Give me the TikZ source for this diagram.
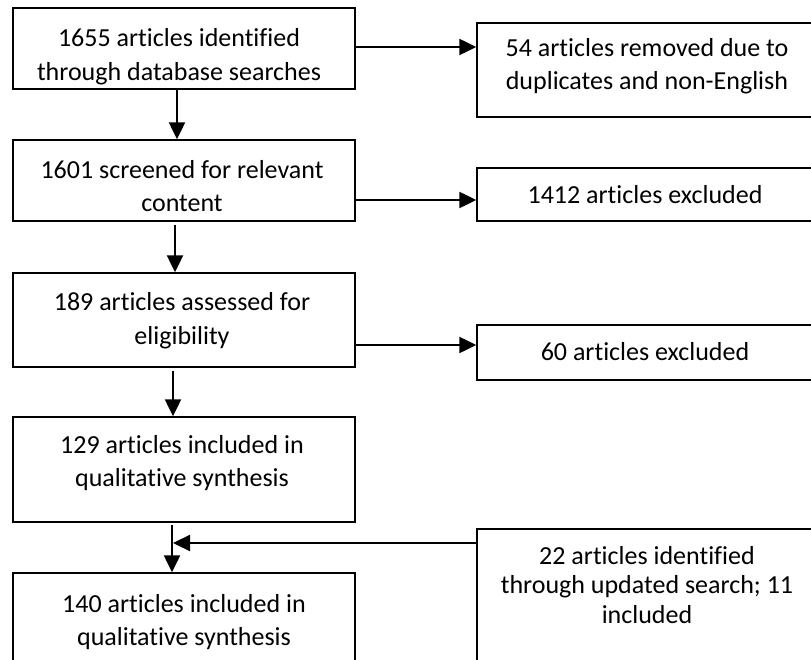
\documentclass[tikz,border=0pt]{standalone}
\usepackage{fontspec}
\setmainfont{Carlito}[Ligatures={NoCommon}]
\usetikzlibrary{arrows.meta}
\tikzset{
  box/.style={draw=black, line width=1.4pt, inner sep=0pt, rectangle},
  txt/.style={font=\fontsize{26}{33}\selectfont, align=center, inner sep=0pt, anchor=base},
  arr/.style={draw=black, line width=2.3pt, -{Triangle[length=17pt,width=16pt]}}
}
\begin{document}
\begin{tikzpicture}[x=1pt,y=-1pt]
\useasboundingbox (0,0) rectangle (811,660);
\clip (0,0) rectangle (811,660);
% left column boxes
\node[box, minimum width=342pt, minimum height=81pt]  (a) at (184,48.5) {};
\node[box, minimum width=342pt, minimum height=81pt]  (b) at (184,180.5) {};
\node[box, minimum width=342pt, minimum height=94pt]  (c) at (184,320) {};
\node[box, minimum width=342pt, minimum height=105pt] (d) at (184,469.5) {};
\node[box, minimum width=342pt, minimum height=117pt] (e) at (184,631.5) {};
% right column boxes
\node[box, minimum width=340pt, minimum height=94pt]  (r1) at (647,70) {};
\node[box, minimum width=340pt, minimum height=53pt]  (r2) at (647,194.5) {};
\node[box, minimum width=340pt, minimum height=55pt]  (r3) at (647,352.5) {};
\node[box, minimum width=340pt, minimum height=161pt] (r4) at (647,609.5) {};
% texts (anchor base = baseline of the last line)
\node[txt, font=\fontsize{26}{34}\selectfont] (ta) at (179,81) {1655 articles identified\\through database searches};
\node[txt] (tb) at (182,212) {1601 screened for relevant\\content};
\node[txt] (tc) at (182,344) {189 articles assessed for\\eligibility};
\node[txt] (td) at (182,486) {129 articles included in\\qualitative synthesis};
\node[txt] (te) at (184,645) {140 articles included in\\qualitative synthesis};
\node[txt] (tr1) at (647,90) {54 articles removed due to\\duplicates and non-English};
\node[txt] (tr2) at (645,204) {1412 articles excluded};
\node[txt] (tr3) at (645,360) {60 articles excluded};
\node[txt, font=\fontsize{26}{29.5}\selectfont] (tr4) at (647,623) {22 articles identified\\through updated search; 11\\included};
% vertical arrows
\draw[arr] ([xshift=-7pt]a.south) -- ([xshift=-7pt]b.north);
\draw[arr] ([xshift=-9pt,yshift=-3pt]b.south) -- ([xshift=-9pt]c.north);
\draw[arr] ([xshift=-11pt,yshift=-3pt]c.south) -- ([xshift=-11pt]d.north);
\draw[arr] ([xshift=-12pt,yshift=-2pt]d.south) -- ([xshift=-12pt]e.north);
\coordinate (m) at ([xshift=-11pt]d.south);
% horizontal arrows
\draw[arr] ([yshift=1.5pt]a.east) -- ([yshift=1.5pt]a.east -| r1.west);
\draw[arr] ([yshift=-5.5pt]r2.west -| b.east) -- ([yshift=-5.5pt]r2.west);
\draw[arr] ([yshift=7.5pt]r3.west -| c.east) -- ([yshift=7.5pt]r3.west);
\draw[arr] ([yshift=66.5pt]r4.west) -- ([yshift=66.5pt]r4.west -| m);
\end{tikzpicture}
\end{document}
